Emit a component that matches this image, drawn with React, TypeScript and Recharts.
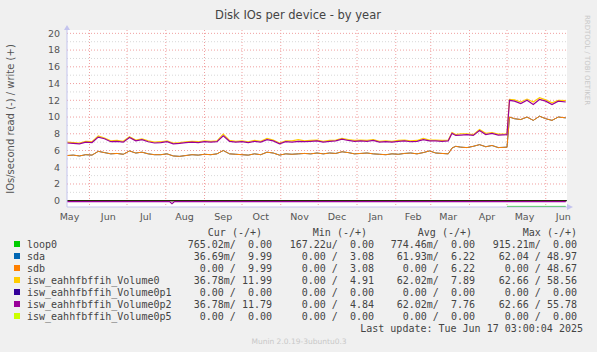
import {
  ComposedChart,
  Line,
  XAxis,
  YAxis,
  CartesianGrid,
  ReferenceLine,
} from "recharts";

// day offsets from the left edge (mid May 2024)
const days = [
  0, 5, 10, 15, 20, 25, 30, 35, 40, 45, 50, 55, 60, 65, 70, 75, 80, 85, 90, 95,
  100, 105, 110, 115, 120, 125, 130, 135, 140, 145, 150, 155, 160, 165, 170,
  175, 180, 185, 190, 195, 200, 205, 210, 215, 220, 225, 230, 235, 240, 245,
  250, 255, 260, 265, 270, 275, 280, 285, 290, 295, 300, 305, 308, 311, 315,
  320, 325, 330, 335, 340, 345, 352, 354, 358, 363, 368, 373, 378, 383, 388,
  393, 399,
];

// write side (+)
const vol0p2Write = [
  6.9, 6.85, 6.8, 7.0, 6.95, 7.6, 7.4, 7.05, 7.1, 7.0,
  7.55, 7.15, 7.3, 7.05, 6.9, 6.95, 7.05, 6.8, 6.85, 6.95,
  7.0, 6.95, 7.05, 7.0, 7.05, 7.75, 7.1, 7.0, 7.05, 6.95,
  7.1, 7.0, 7.3, 7.15, 6.8, 7.05, 7.0, 7.1, 7.05, 7.1,
  7.15, 7.0, 7.1, 7.15, 7.35, 7.2, 7.1, 7.15, 7.1, 7.2,
  7.0, 7.05, 7.0, 7.1, 7.15, 7.05, 7.1, 7.3, 7.15, 7.15,
  7.1, 7.15, 8.05, 7.8, 7.85, 7.9, 7.8, 8.4, 7.9, 8.05,
  7.85, 7.9, 12.0, 11.9, 11.6, 12.0, 11.5, 12.1, 11.9, 11.5,
  11.9, 11.8,
];
const vol0Write = [
  7.0, 6.95, 6.9, 7.1, 7.05, 7.75, 7.5, 7.15, 7.2, 7.1,
  7.65, 7.25, 7.4, 7.15, 7.0, 7.05, 7.15, 6.9, 6.95, 7.05,
  7.1, 7.05, 7.15, 7.1, 7.15, 7.95, 7.2, 7.1, 7.15, 7.05,
  7.2, 7.1, 7.45, 7.25, 6.9, 7.15, 7.15, 7.3, 7.15, 7.2,
  7.25, 7.1, 7.2, 7.25, 7.45, 7.3, 7.2, 7.25, 7.2, 7.3,
  7.1, 7.15, 7.1, 7.2, 7.25, 7.15, 7.2, 7.45, 7.25, 7.25,
  7.2, 7.25, 8.15, 7.9, 8.0, 8.0, 7.9, 8.5, 8.05, 8.15,
  7.95, 8.0, 12.1, 12.05, 11.8, 12.15, 11.8, 12.3, 12.05, 11.7,
  12.0, 11.95,
];
const sdbWrite = [
  5.4, 5.45, 5.35, 5.5, 5.45, 5.9, 5.75, 5.6, 5.65, 5.55,
  5.95, 5.7, 5.8, 5.6, 5.5, 5.5, 5.6, 5.35, 5.3, 5.4,
  5.5, 5.45, 5.55, 5.5, 5.6, 6.0, 5.6, 5.55, 5.5, 5.45,
  5.6, 5.5, 5.8, 5.7, 5.45, 5.6, 5.55, 5.6, 5.65, 5.6,
  5.7, 5.6, 5.7, 5.65, 5.85, 5.75, 5.6, 5.65, 5.7, 5.6,
  5.55, 5.5, 5.6, 5.55, 5.65, 5.7, 5.6, 5.75, 5.95, 5.7,
  5.65, 5.6, 6.3, 6.5, 6.4, 6.35, 6.5, 6.7, 6.45, 6.6,
  6.35, 6.4, 10.0, 9.8, 9.7, 10.0, 9.6, 10.1, 9.8, 9.6,
  10.0, 9.9,
];
// sda follows sdb and is hidden under it
const sdaWrite = sdbWrite;

// read side (-)
const readDays = [0, 82, 84, 86, 399];
const diskRead = [-0.1, -0.1, -0.35, -0.1, -0.1];
const loopDays = [352, 399];
const loop0Read = [-0.68, -0.68];
const loop0Write = [0, 0];
const flatDays = [0, 399];
const flatZero = [0, 0];

const monthStarts = [18, 48, 79, 110, 140, 171, 201, 232, 263, 291, 322, 352, 383];
const labelDays = [2, 33, 63, 94, 125, 155, 186, 216, 247, 277, 305, 336, 366, 397];
const monthLabels = ["May", "Jun", "Jul", "Aug", "Sep", "Oct", "Nov", "Dec", "Jan", "Feb", "Mar", "Apr", "May", "Jun"];
const yTicks = [0, 2, 4, 6, 8, 10, 12, 14, 16, 18, 20];
const yMinor = [1, 3, 5, 7, 9, 11, 13, 15, 17, 19];

const legendNames = [
  "loop0",
  "sda",
  "sdb",
  "isw_eahhfbffih_Volume0",
  "isw_eahhfbffih_Volume0p1",
  "isw_eahhfbffih_Volume0p2",
  "isw_eahhfbffih_Volume0p5",
];
const legendColors = ["#00cc00", "#0066b3", "#ff8000", "#ffcc00", "#330099", "#990099", "#ccff00"];
const curValues = ["765.02m/  0.00", "36.69m/  9.99", "0.00 /  9.99", "36.78m/ 11.99", "0.00 /  0.00", "36.78m/ 11.79", "0.00 /  0.00"];
const minValues = ["167.22u/  0.00", "0.00 /  3.08", "0.00 /  3.08", "0.00 /  4.91", "0.00 /  0.00", "0.00 /  4.84", "0.00 /  0.00"];
const avgValues = ["774.46m/  0.00", "61.93m/  6.22", "0.00 /  6.22", "62.02m/  7.89", "0.00 /  0.00", "62.02m/  7.76", "0.00 /  0.00"];
const maxValues = ["915.21m/  0.00", "62.04 / 48.97", "0.00 / 48.67", "62.66 / 58.56", "0.00 /  0.00", "62.66 / 55.78", "0.00 /  0.00"];

const data = days.map((d, i) => ({
  day: d,
  sda: sdaWrite[i],
  sdb: sdbWrite[i],
  vol0: vol0Write[i],
  vol0p2: vol0p2Write[i],
}));
const readData = readDays.map((d, i) => ({ day: d, r: diskRead[i] }));
const loopData = loopDays.map((d, i) => ({ day: d, r: loop0Read[i], w: loop0Write[i] }));
const flatData = flatDays.map((d, i) => ({ day: d, v: flatZero[i] }));

const sans = "'DejaVu Sans', sans-serif";
const mono = "'DejaVu Sans Mono', monospace";
const axisBlue = "#c4c4ee";

// keep the double spaces of the rrdtool columns
const pre = (s: string) => s.replace(/ /g, "\u00a0");

export default function App() {
  const rowY = (i: number) => 244 + i * 12;
  return (
    <div
      style={{
        position: "fixed",
        left: 0,
        top: 0,
        width: 597,
        height: 352,
        background: "#f0f0f0",
        overflow: "hidden",
      }}
    >
      <ComposedChart
        width={597}
        height={352}
        margin={{ top: 30, right: 30, bottom: 125, left: 27 }}
        style={{ position: "absolute", left: 0, top: 0 }}
      >
        <CartesianGrid
          fill="#ffffff"
          stroke="#d8d8d8"
          strokeDasharray="1 2"
          horizontalValues={yMinor}
          vertical={false}
        />
        <CartesianGrid
          stroke="#f0a0a0"
          strokeDasharray="1 2"
          horizontalValues={yTicks}
          verticalValues={monthStarts}
        />
        <XAxis
          type="number"
          dataKey="day"
          domain={[0, 400]}
          ticks={labelDays}
          tickFormatter={(v) => monthLabels[labelDays.indexOf(v)]}
          interval={0}
          height={20}
          tickLine={false}
          tickSize={0}
          tickMargin={6}
          axisLine={{ stroke: axisBlue }}
          tick={{ fontSize: 9.5, fill: "#555", fontFamily: sans }}
          allowDataOverflow
        />
        <YAxis
          type="number"
          domain={[-0.75, 20.4]}
          ticks={yTicks}
          interval={0}
          width={40}
          tickLine={false}
          tickSize={0}
          tickMargin={7}
          axisLine={{ stroke: axisBlue }}
          tick={{ fontSize: 9.5, fill: "#555", fontFamily: sans }}
          allowDataOverflow
        />
        <Line data={loopData} dataKey="w" stroke="#00cc00" strokeWidth={1} dot={false} isAnimationActive={false} />
        <Line data={flatData} dataKey="v" stroke="#330099" strokeWidth={1} dot={false} isAnimationActive={false} />
        <Line data={flatData} dataKey="v" stroke="#ccff00" strokeWidth={1} dot={false} isAnimationActive={false} />
        <ReferenceLine y={0} stroke="#000000" strokeWidth={1} />
        <Line data={loopData} dataKey="r" stroke="#00cc00" strokeWidth={1} dot={false} isAnimationActive={false} />
        <Line data={data} dataKey="sda" type="linear" stroke="#0066b3" strokeWidth={1} dot={false} isAnimationActive={false} />
        <Line data={data} dataKey="sdb" type="linear" stroke="#ff8000" strokeWidth={1} dot={false} isAnimationActive={false} />
        <Line data={data} dataKey="vol0" type="linear" stroke="#ffcc00" strokeWidth={1.2} dot={false} isAnimationActive={false} />
        <Line data={readData} dataKey="r" stroke="#990099" strokeWidth={1.2} dot={false} isAnimationActive={false} />
        <Line data={data} dataKey="vol0p2" type="linear" stroke="#990099" strokeWidth={1.2} dot={false} isAnimationActive={false} />
      </ComposedChart>

      <svg
        width={597}
        height={352}
        style={{ position: "absolute", left: 0, top: 0, pointerEvents: "none" }}
      >
        {/* axis arrows */}
        <polygon points="64,30 70,30 67,25" fill={axisBlue} />
        <polygon points="567,204 567,210 573,207" fill={axisBlue} />

        <text x={298} y={19} textAnchor="middle" fontFamily={sans} fontSize={11.5} fill="#444">
          Disk IOs per device - by year
        </text>
        <text
          x={11}
          y={119}
          transform="rotate(-90 11 119)"
          textAnchor="middle"
          dominantBaseline="middle"
          fontFamily={sans}
          fontSize={10}
          fill="#555"
        >
          IOs/second read (-) / write (+)
        </text>
        <text
          x={587}
          y={60}
          transform="rotate(90 587 60)"
          textAnchor="middle"
          dominantBaseline="middle"
          fontFamily={sans}
          fontSize={7}
          fill="#c8c8c8"
        >
          RRDTOOL / TOBI OETIKER
        </text>

        <g fontFamily={mono} fontSize={10} fill="#444">
          <text x={262} y={235.5} textAnchor="end">{pre("Cur (-/+)")}</text>
          <text x={367} y={235.5} textAnchor="end">{pre("Min (-/+)")}</text>
          <text x={472} y={235.5} textAnchor="end">{pre("Avg (-/+)")}</text>
          <text x={577} y={235.5} textAnchor="end">{pre("Max (-/+)")}</text>
          {legendNames.map((name, i) => (
            <g key={name}>
              <rect x={14} y={rowY(i) - 3} width={6} height={6} fill={legendColors[i]} />
              <text x={27} y={rowY(i) + 3.5}>{name}</text>
              <text x={272} y={rowY(i) + 3.5} textAnchor="end">{pre(curValues[i])}</text>
              <text x={374} y={rowY(i) + 3.5} textAnchor="end">{pre(minValues[i])}</text>
              <text x={475} y={rowY(i) + 3.5} textAnchor="end">{pre(avgValues[i])}</text>
              <text x={577} y={rowY(i) + 3.5} textAnchor="end">{pre(maxValues[i])}</text>
            </g>
          ))}
          <text x={583} y={331.5} textAnchor="end">Last update: Tue Jun 17 03:00:04 2025</text>
        </g>
        <text x={299} y={344} textAnchor="middle" fontFamily={sans} fontSize={7.5} fill="#c8c8c8">
          Munin 2.0.19-3ubuntu0.3
        </text>
      </svg>
    </div>
  );
}
